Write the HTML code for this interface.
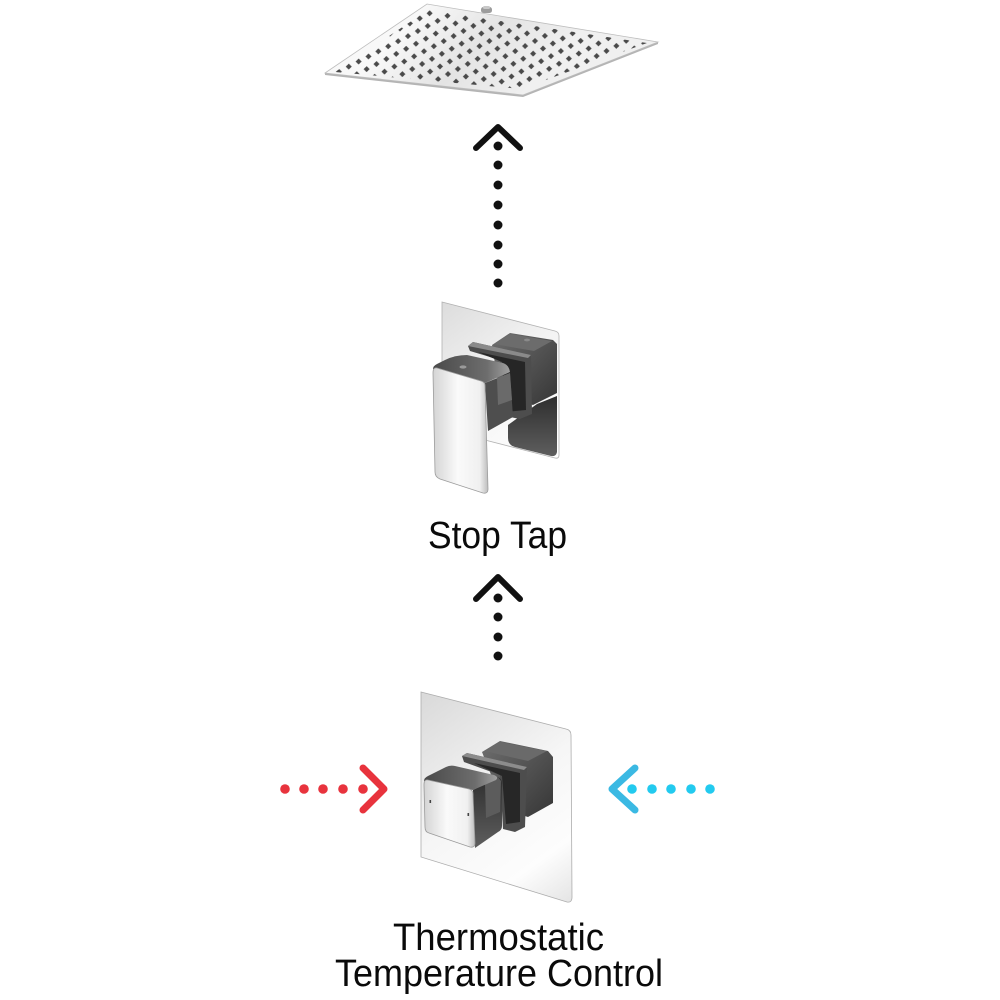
<!DOCTYPE html>
<html>
<head>
<meta charset="utf-8">
<style>
  html,body{margin:0;padding:0;background:#fff;}
  svg{display:block;}
  text{font-family:"Liberation Sans", Arial, sans-serif;fill:#0a0a0a;}
</style>
</head>
<body>
<svg width="1000" height="1000" viewBox="0 0 1000 1000" xmlns="http://www.w3.org/2000/svg">
  <defs>
    <linearGradient id="shg" x1="427" y1="4" x2="523" y2="95" gradientUnits="userSpaceOnUse">
      <stop offset="0" stop-color="#f8f8f8"/>
      <stop offset="0.5" stop-color="#e4e4e4"/>
      <stop offset="1" stop-color="#f0f0f0"/>
    </linearGradient>
    <pattern id="holes" patternUnits="userSpaceOnUse" width="1" height="1"
             patternTransform="matrix(17.875 2.5 9.875 -5.083 325 73)">
      <polygon points="0.244,0.964 0.632,0.565 0.756,0.036 0.368,0.435" fill="#4a4a4a"/>
    </pattern>
    <clipPath id="shclip">
      <polygon points="335,72 428,10 647,43 521,89"/>
    </clipPath>

    <!-- stop tap gradients -->
    <linearGradient id="plate1" x1="442" y1="302" x2="559" y2="458" gradientUnits="userSpaceOnUse">
      <stop offset="0" stop-color="#dcdcdc"/>
      <stop offset="0.45" stop-color="#f3f3f3"/>
      <stop offset="1" stop-color="#ffffff"/>
    </linearGradient>
    <linearGradient id="dark1" x1="0" y1="0" x2="1" y2="1">
      <stop offset="0" stop-color="#6e6e6e"/>
      <stop offset="1" stop-color="#363636"/>
    </linearGradient>
    <linearGradient id="dark2" x1="0" y1="0" x2="0" y2="1">
      <stop offset="0" stop-color="#2e2e2e"/>
      <stop offset="1" stop-color="#5e5e5e"/>
    </linearGradient>
    <linearGradient id="top1" x1="0" y1="0" x2="1" y2="0">
      <stop offset="0" stop-color="#4a4a4a"/>
      <stop offset="0.7" stop-color="#6d6d6d"/>
      <stop offset="1" stop-color="#a0a0a0"/>
    </linearGradient>
    <linearGradient id="front1" x1="0" y1="0" x2="1" y2="0">
      <stop offset="0" stop-color="#d4d4d4"/>
      <stop offset="0.45" stop-color="#fafafa"/>
      <stop offset="0.85" stop-color="#f0f0f0"/>
      <stop offset="1" stop-color="#bdbdbd"/>
    </linearGradient>

    <!-- thermostat gradients -->
    <linearGradient id="plate2" x1="421" y1="692" x2="572" y2="902" gradientUnits="userSpaceOnUse">
      <stop offset="0" stop-color="#d9d9d9"/>
      <stop offset="0.5" stop-color="#f6f6f6"/>
      <stop offset="0.8" stop-color="#fdfdfd"/>
      <stop offset="1" stop-color="#e4e4e4"/>
    </linearGradient>
  </defs>

  <!-- ===== Shower head ===== -->
  <polygon points="325,73 523,95 658,42 658,44 523,97 325,75" fill="#b4b4b4"/>
  <polygon points="325,73 427,4 658,42 523,95" fill="url(#shg)" stroke="#bdbdbd" stroke-width="0.8"/>
  <rect x="300" y="0" width="400" height="110" fill="url(#holes)" clip-path="url(#shclip)"/>
  <rect x="481" y="7" width="11" height="6" rx="2.5" fill="#9c9c9c"/>
  <rect x="483" y="6" width="7" height="3" rx="1.5" fill="#c8c8c8"/>

  <!-- ===== Top black arrow ===== -->
  <polyline points="476,148 498,127 520,148" fill="none" stroke="#111" stroke-width="6" stroke-linecap="round" stroke-linejoin="round"/>
  <g fill="#111">
    <circle cx="498" cy="146" r="4.5"/>
    <circle cx="498" cy="165" r="4.5"/>
    <circle cx="498" cy="185" r="4.5"/>
    <circle cx="498" cy="205" r="4.5"/>
    <circle cx="498" cy="225" r="4.5"/>
    <circle cx="498" cy="245" r="4.5"/>
    <circle cx="498" cy="264" r="4.5"/>
    <circle cx="498" cy="283" r="4.5"/>
  </g>

  <!-- ===== Stop tap ===== -->
  <path d="M442,302 L555,331 Q559,332 559,336 L559,455 Q559,459 555,458 L442,429 Z" fill="url(#plate1)" stroke="#b2b2b2" stroke-width="0.8"/>
  <path d="M508,425 L537,404 L557,396 L557,452 Q556,457 551,456 L515,447 Q508,445 508,438 Z" fill="url(#dark2)"/>
  <polygon points="492,345 510,333 553,340 557,344 557,393 533,405 500,395" fill="url(#dark1)"/>
  <polygon points="494,344 510,334 552,341 534,351" fill="#6c6c6c"/>
  <ellipse cx="527" cy="340" rx="3" ry="1.4" fill="#8a8a8a"/>
  <polygon points="468,346 473,342 531,355 532,414 520,419 505,416 500,360 470,351" fill="#4d4d4d"/>
  <polygon points="478,352 525,362 526,410 506,412 502,362" fill="#262626"/>
  <polygon points="468,346 473,342 531,355 528,358" fill="#8a8a8a"/>
  <polygon points="485,383 510,373 513,417 488,431" fill="#4e4e4e"/>
  <polygon points="497,378 510,373 512,400 498,405" fill="#6a6a6a"/>
  <path d="M433,369 Q433,366 437,364 L445,360 Q455,355 467,355 L503,363 Q509,365 510,372 L485,383 Z" fill="url(#top1)"/>
  <ellipse cx="463" cy="367" rx="3.5" ry="1.6" fill="#9a9a9a"/>
  <path d="M437,368 L481,381 Q485,382 485,386 L488,489 Q488,494 483,493 L440,479 Q435,477 435,472 L433,373 Q433,367 437,368 Z" fill="url(#front1)" stroke="#9c9c9c" stroke-width="0.8"/>

  <!-- Stop Tap label -->
  <text x="428" y="548" font-size="38" textLength="139" lengthAdjust="spacingAndGlyphs">Stop Tap</text>

  <!-- ===== Middle black arrow ===== -->
  <polyline points="476,599 498,577 520,599" fill="none" stroke="#111" stroke-width="6" stroke-linecap="round" stroke-linejoin="round"/>
  <g fill="#111">
    <circle cx="498" cy="598" r="4.5"/>
    <circle cx="498" cy="617" r="4.5"/>
    <circle cx="498" cy="637" r="4.5"/>
    <circle cx="498" cy="656" r="4.5"/>
  </g>

  <!-- ===== Red arrow ===== -->
  <g fill="#e8333d">
    <circle cx="285" cy="789" r="4.8"/>
    <circle cx="304" cy="789" r="4.8"/>
    <circle cx="323" cy="789" r="4.8"/>
    <circle cx="343" cy="789" r="4.8"/>
    <circle cx="363" cy="789" r="4.8"/>
  </g>
  <polyline points="363,768 384,789 363,810" fill="none" stroke="#e8333d" stroke-width="7" stroke-linecap="round" stroke-linejoin="round"/>

  <!-- ===== Blue arrow ===== -->
  <g fill="#22caef">
    <circle cx="632" cy="789" r="4.8"/>
    <circle cx="652" cy="789" r="4.8"/>
    <circle cx="671" cy="789" r="4.8"/>
    <circle cx="691" cy="789" r="4.8"/>
    <circle cx="710" cy="789" r="4.8"/>
  </g>
  <polyline points="635,768 612,789 635,810" fill="none" stroke="#3bb9e3" stroke-width="7" stroke-linecap="round" stroke-linejoin="round"/>

  <!-- ===== Thermostat ===== -->
  <path d="M421,692 L566,729 Q571,730 571,735 L572,897 Q572,903 567,902 L421,857 Z" fill="url(#plate2)" stroke="#adadad" stroke-width="0.8"/>
  <polygon points="482,752 500,741 548,751 553,757 553,803 528,817 505,810" fill="url(#dark1)"/>
  <polygon points="484,751 500,742 547,751 528,761" fill="#6a6a6a"/>
  <polygon points="462,756 467,753 527,767 525,827 515,832 503,829 500,775 464,762" fill="#4d4d4d"/>
  <polygon points="474,763 520,773 520,822 506,824 502,776" fill="#272727"/>
  <polygon points="462,756 467,753 527,767 524,770" fill="#8c8c8c"/>
  <path d="M473,790 L498,777 Q502,779 502,783 L502,826 Q502,830 498,832 L475,848 Z" fill="url(#dark2)"/>
  <polygon points="485,784 498,777 501,781 500,812 486,818" fill="#5c5c5c"/>
  <path d="M424,781 Q424,778 428,776 L446,767 Q450,765 455,766 L494,775 Q499,777 496,780 L473,790 Z" fill="url(#top1)"/>
  <path d="M428,780 L469,789 Q473,790 473,794 L475,843 Q475,848 470,847 L429,833 Q425,832 425,827 L424,785 Q424,779 428,780 Z" fill="url(#front1)" stroke="#9a9a9a" stroke-width="0.8"/>
  <rect x="429.5" y="800" width="1.6" height="3" fill="#444"/>
  <rect x="467.5" y="813" width="1.6" height="3" fill="#444"/>

  <!-- Thermostatic label -->
  <text x="393" y="950" font-size="38" textLength="211" lengthAdjust="spacingAndGlyphs">Thermostatic</text>
  <text x="335" y="986" font-size="38" textLength="328" lengthAdjust="spacingAndGlyphs">Temperature Control</text>
</svg>
</body>
</html>
